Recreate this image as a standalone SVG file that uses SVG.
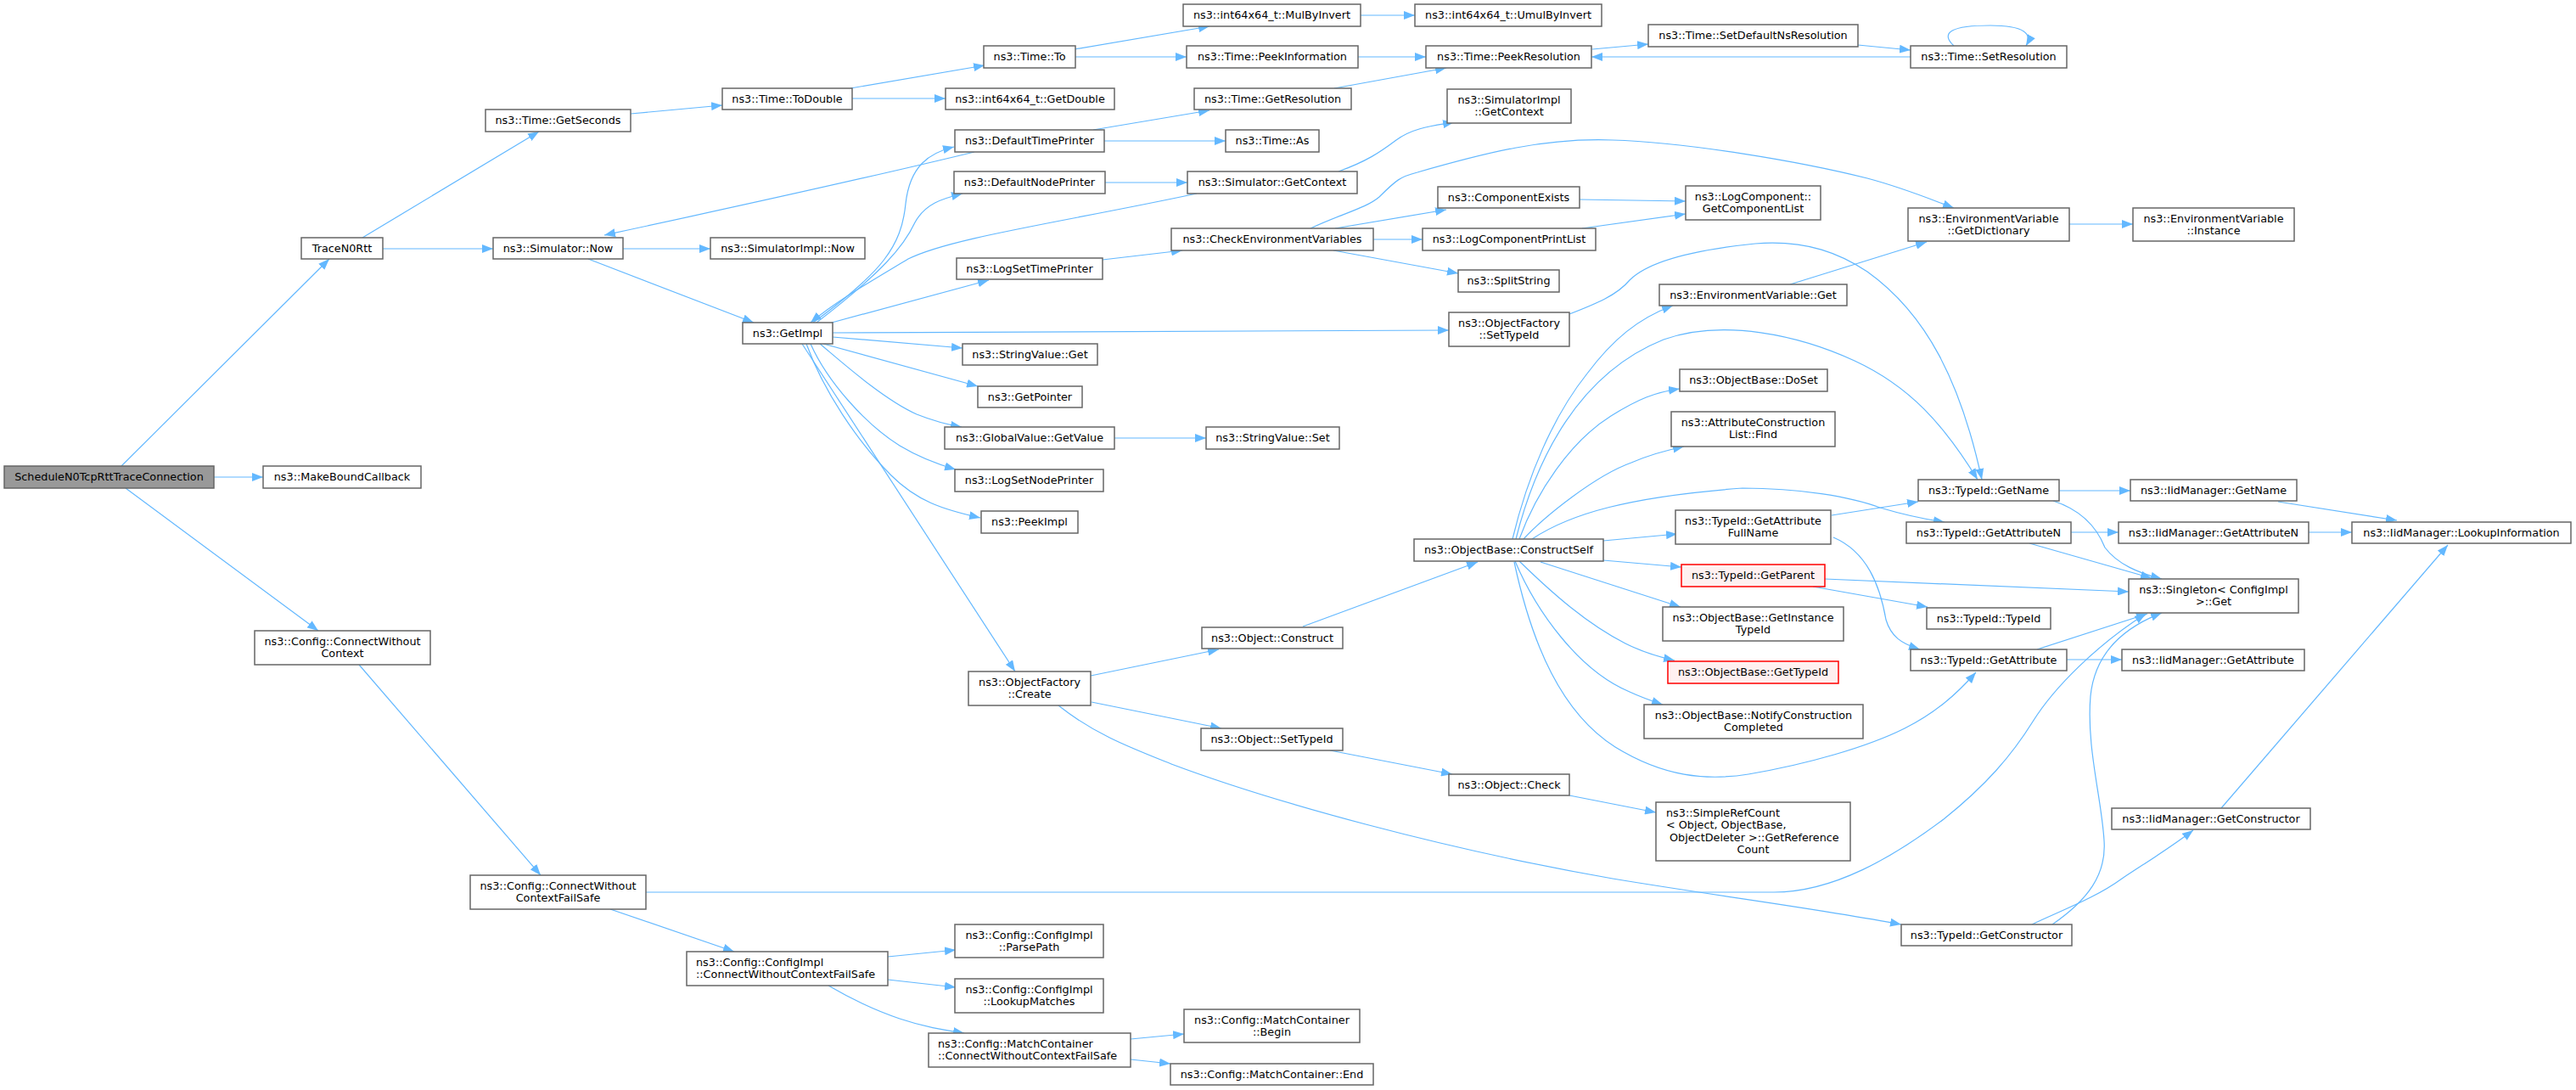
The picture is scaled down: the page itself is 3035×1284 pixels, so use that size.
<svg xmlns="http://www.w3.org/2000/svg" width="3035" height="1284" viewBox="0 0 3035 1284">
<style>
.n rect{fill:#ffffff;stroke:#666666;stroke-width:1.5}
.root rect{fill:#999999}
.red rect{fill:#fff0f0;stroke:#ff0000}
text{font-family:"DejaVu Sans",sans-serif;font-size:12.8px;fill:#000000;text-anchor:middle}
text.l{text-anchor:start}
.e{fill:none;stroke:#63b8ff;stroke-width:1.2;marker-end:url(#arr)}
</style>
<defs>
<marker id="arr" markerUnits="userSpaceOnUse" markerWidth="13" markerHeight="10" refX="13" refY="5" orient="auto">
<path d="M0,0 L13,5 L0,10 z" fill="#63b8ff"/>
</marker>
</defs>
<rect width="3035" height="1284" fill="#ffffff"/>
<g id="edges">
<path class="e" d="M143,549 L388,305"/>
<path class="e" d="M252,562 L310,562"/>
<path class="e" d="M148,575 L375,743"/>
<path class="e" d="M427,280 L635,155"/>
<path class="e" d="M451,293 L581,293"/>
<path class="e" d="M743,134 L851,124"/>
<path class="e" d="M1002,104 L1160,77"/>
<path class="e" d="M1004,116 L1114,116"/>
<path class="e" d="M1266,58 L1425,31"/>
<path class="e" d="M1267,67 L1398,67"/>
<path class="e" d="M1603,18 L1667,18"/>
<path class="e" d="M1600,67 L1680,67"/>
<path class="e" d="M1572,104 L1704,80"/>
<path class="e" d="M1876,58 L1942,52"/>
<path class="e" d="M2189,53 L2251,59"/>
<path class="e" d="M2251,67 L1875,67"/>
<path class="e" d="M2302,54 C2285,38 2300,30 2345,30 C2385,30 2395,40 2387,54"/>
<path class="e" d="M1288,153 L1425,130"/>
<path class="e" d="M1301,166 L1444,166"/>
<path class="e" d="M1148,179 C1000,215 800,258 712,277"/>
<path class="e" d="M1302,215 L1399,215"/>
<path class="e" d="M1577,202 C1610,190 1625,180 1645,165 C1665,150 1690,148 1713,144"/>
<path class="e" d="M1410,228 C1250,262 1120,280 1070,305 C1020,335 985,355 955,380"/>
<path class="e" d="M693,305 L888,380"/>
<path class="e" d="M734,293 L837,293"/>
<path class="e" d="M958,380 C1040,320 1062,290 1067,240 C1072,195 1095,180 1124,173"/>
<path class="e" d="M962,380 C1040,320 1065,290 1078,262 C1090,240 1110,234 1134,228"/>
<path class="e" d="M980,380 L1165,330"/>
<path class="e" d="M1299,306 L1393,295"/>
<path class="e" d="M981,392 L1707,389"/>
<path class="e" d="M981,397 L1134,410"/>
<path class="e" d="M970,405 L1152,455"/>
<path class="e" d="M966,405 C990,425 1040,470 1080,488 C1100,496 1115,500 1133,503"/>
<path class="e" d="M955,405 C975,450 1020,500 1060,525 C1085,540 1105,547 1126,553"/>
<path class="e" d="M950,405 C970,460 1010,520 1050,560 C1080,590 1110,600 1155,610"/>
<path class="e" d="M945,405 L1196,791"/>
<path class="e" d="M1313,516 L1421,516"/>
<path class="e" d="M1573,269 L1704,247"/>
<path class="e" d="M1618,282 L1676,282"/>
<path class="e" d="M1571,295 L1718,322"/>
<path class="e" d="M1544,269 C1580,252 1610,245 1625,232 C1645,212 1650,208 1670,203 C1750,180 1820,162 1900,165 C1990,168 2120,190 2200,210 C2245,222 2275,235 2302,245"/>
<path class="e" d="M2438,264 L2513,264"/>
<path class="e" d="M2109,335 L2270,285"/>
<path class="e" d="M1861,235 L1986,237"/>
<path class="e" d="M1864,269 L1986,252"/>
<path class="e" d="M1849,370 C1880,358 1905,348 1920,330 C1940,310 1990,295 2068,287 C2130,282 2170,300 2200,320 C2270,370 2310,450 2335,565"/>
<path class="e" d="M1782,635 C1800,560 1830,490 1870,440 C1900,400 1930,375 1971,360"/>
<path class="e" d="M1786,635 C1810,540 1860,440 1960,400 C2030,375 2120,395 2185,425 C2250,455 2290,500 2330,565"/>
<path class="e" d="M1790,635 C1810,580 1850,520 1898,490 C1930,470 1950,462 1979,458"/>
<path class="e" d="M1795,635 C1820,608 1880,560 1922,545 C1945,535 1965,530 1984,526"/>
<path class="e" d="M1805,635 C1850,605 1920,585 2053,575 C2120,575 2180,585 2215,598 C2245,607 2270,612 2291,615"/>
<path class="e" d="M1889,637 L1976,629"/>
<path class="e" d="M1889,660 L1981,668"/>
<path class="e" d="M1815,662 L1980,715"/>
<path class="e" d="M1790,661 C1830,700 1870,735 1915,758 C1935,768 1955,774 1973,778"/>
<path class="e" d="M1785,661 C1810,720 1860,790 1920,815 C1935,822 1947,826 1959,830"/>
<path class="e" d="M1784,662 C1805,760 1840,840 1903,880 C1960,915 2010,920 2060,912 C2130,900 2200,880 2244,858 C2280,840 2305,818 2328,792"/>
<path class="e" d="M2160,633 C2200,650 2215,690 2222,730 C2228,750 2240,758 2262,765"/>
<path class="e" d="M2158,607 L2260,591"/>
<path class="e" d="M2136,691 L2271,715"/>
<path class="e" d="M2150,682 L2508,697"/>
<path class="e" d="M2426,578 L2510,578"/>
<path class="e" d="M2419,590 C2450,600 2470,620 2480,645 C2495,665 2520,675 2547,682"/>
<path class="e" d="M2440,627 L2496,627"/>
<path class="e" d="M2391,640 L2535,681"/>
<path class="e" d="M2684,591 L2824,613"/>
<path class="e" d="M2720,627 L2771,627"/>
<path class="e" d="M2435,777 L2500,777"/>
<path class="e" d="M2400,765 L2530,723"/>
<path class="e" d="M2617,952 L2884,642"/>
<path class="e" d="M2394,1089 C2430,1072 2470,1057 2500,1035 C2530,1015 2555,1000 2584,978"/>
<path class="e" d="M2418,1089 C2460,1060 2482,1030 2479,990 C2476,940 2458,880 2463,820 C2468,770 2500,740 2547,722"/>
<path class="e" d="M761,1051 L2090,1051 C2160,1051 2230,1010 2290,965 C2340,925 2370,890 2395,850 C2420,810 2470,760 2528,723"/>
<path class="e" d="M1285,796 L1436,765"/>
<path class="e" d="M1286,827 L1439,858"/>
<path class="e" d="M1247,831 C1290,865 1330,880 1380,900 C1500,945 1700,1000 1900,1035 C2020,1055 2140,1070 2240,1089"/>
<path class="e" d="M1535,738 L1741,662"/>
<path class="e" d="M1567,884 L1711,912"/>
<path class="e" d="M1849,937 L1951,957"/>
<path class="e" d="M423,783 L637,1031"/>
<path class="e" d="M719,1071 L865,1121"/>
<path class="e" d="M1046,1127 L1126,1119"/>
<path class="e" d="M1046,1154 L1126,1163"/>
<path class="e" d="M976,1161 C1000,1175 1030,1190 1060,1200 C1090,1210 1110,1213 1136,1217"/>
<path class="e" d="M1332,1224 L1395,1218"/>
<path class="e" d="M1332,1248 L1379,1253"/>
</g>
<g id="n1" class="n root"><rect x="5" y="549" width="247" height="26"/><text x="128.5" y="566">ScheduleN0TcpRttTraceConnection</text></g>
<g id="n2" class="n"><rect x="355" y="280" width="96" height="25"/><text x="403" y="297">TraceN0Rtt</text></g>
<g id="n3" class="n"><rect x="310" y="549" width="186" height="26"/><text x="403" y="566">ns3::MakeBoundCallback</text></g>
<g id="n4" class="n"><rect x="300" y="743" width="207" height="40"/><text x="403.5" y="759.5">ns3::Config::ConnectWithout</text><text x="403.5" y="773.5">Context</text></g>
<g id="n5" class="n"><rect x="572" y="129" width="171" height="26"/><text x="657.5" y="146">ns3::Time::GetSeconds</text></g>
<g id="n6" class="n"><rect x="581" y="280" width="153" height="25"/><text x="657.5" y="297">ns3::Simulator::Now</text></g>
<g id="n7" class="n"><rect x="851" y="104" width="153" height="25"/><text x="927.5" y="121">ns3::Time::ToDouble</text></g>
<g id="n8" class="n"><rect x="837" y="280" width="182" height="25"/><text x="928" y="297">ns3::SimulatorImpl::Now</text></g>
<g id="n9" class="n"><rect x="875" y="380" width="106" height="25"/><text x="928" y="397">ns3::GetImpl</text></g>
<g id="n10" class="n"><rect x="1159" y="54" width="108" height="26"/><text x="1213" y="71">ns3::Time::To</text></g>
<g id="n11" class="n"><rect x="1114" y="104" width="199" height="25"/><text x="1213.5" y="121">ns3::int64x64_t::GetDouble</text></g>
<g id="n12" class="n"><rect x="1125" y="153" width="176" height="26"/><text x="1213" y="170">ns3::DefaultTimePrinter</text></g>
<g id="n13" class="n"><rect x="1124" y="202" width="178" height="26"/><text x="1213" y="219">ns3::DefaultNodePrinter</text></g>
<g id="n14" class="n"><rect x="1127" y="304" width="172" height="25"/><text x="1213" y="321">ns3::LogSetTimePrinter</text></g>
<g id="n15" class="n"><rect x="1134" y="405" width="159" height="25"/><text x="1213.5" y="422">ns3::StringValue::Get</text></g>
<g id="n16" class="n"><rect x="1152" y="455" width="123" height="25"/><text x="1213.5" y="472">ns3::GetPointer</text></g>
<g id="n17" class="n"><rect x="1113" y="503" width="200" height="26"/><text x="1213" y="520">ns3::GlobalValue::GetValue</text></g>
<g id="n18" class="n"><rect x="1125" y="553" width="175" height="26"/><text x="1212.5" y="570">ns3::LogSetNodePrinter</text></g>
<g id="n19" class="n"><rect x="1156" y="602" width="114" height="26"/><text x="1213" y="619">ns3::PeekImpl</text></g>
<g id="n20" class="n"><rect x="1141" y="791" width="144" height="40"/><text x="1213" y="807.5">ns3::ObjectFactory</text><text x="1213" y="821.5">::Create</text></g>
<g id="n21" class="n"><rect x="1394" y="5" width="209" height="26"/><text x="1498.5" y="22">ns3::int64x64_t::MulByInvert</text></g>
<g id="n22" class="n"><rect x="1398" y="54" width="202" height="26"/><text x="1499" y="71">ns3::Time::PeekInformation</text></g>
<g id="n23" class="n"><rect x="1407" y="104" width="185" height="25"/><text x="1499.5" y="121">ns3::Time::GetResolution</text></g>
<g id="n24" class="n"><rect x="1444" y="153" width="110" height="26"/><text x="1499" y="170">ns3::Time::As</text></g>
<g id="n25" class="n"><rect x="1399" y="202" width="200" height="26"/><text x="1499" y="219">ns3::Simulator::GetContext</text></g>
<g id="n26" class="n"><rect x="1380" y="269" width="238" height="26"/><text x="1499" y="286">ns3::CheckEnvironmentVariables</text></g>
<g id="n27" class="n"><rect x="1421" y="503" width="157" height="26"/><text x="1499.5" y="520">ns3::StringValue::Set</text></g>
<g id="n28" class="n"><rect x="1416" y="739" width="166" height="25"/><text x="1499" y="756">ns3::Object::Construct</text></g>
<g id="n29" class="n"><rect x="1415" y="858" width="167" height="26"/><text x="1498.5" y="875">ns3::Object::SetTypeId</text></g>
<g id="n30" class="n"><rect x="1667" y="5" width="220" height="26"/><text x="1777" y="22">ns3::int64x64_t::UmulByInvert</text></g>
<g id="n31" class="n"><rect x="1680" y="54" width="195" height="26"/><text x="1777.5" y="71">ns3::Time::PeekResolution</text></g>
<g id="n32" class="n"><rect x="1942" y="29" width="247" height="26"/><text x="2065.5" y="46">ns3::Time::SetDefaultNsResolution</text></g>
<g id="n33" class="n"><rect x="2251" y="54" width="184" height="26"/><text x="2343" y="71">ns3::Time::SetResolution</text></g>
<g id="n34" class="n"><rect x="1705" y="105" width="146" height="40"/><text x="1778" y="121.5">ns3::SimulatorImpl</text><text x="1778" y="135.5">::GetContext</text></g>
<g id="n35" class="n"><rect x="1694" y="220" width="167" height="25"/><text x="1777.5" y="237">ns3::ComponentExists</text></g>
<g id="n36" class="n"><rect x="1986" y="219" width="159" height="40"/><text x="2065.5" y="235.5">ns3::LogComponent::</text><text x="2065.5" y="249.5">GetComponentList</text></g>
<g id="n37" class="n"><rect x="1676" y="269" width="204" height="26"/><text x="1778" y="286">ns3::LogComponentPrintList</text></g>
<g id="n38" class="n"><rect x="1718" y="318" width="119" height="26"/><text x="1777.5" y="335">ns3::SplitString</text></g>
<g id="n39" class="n"><rect x="1707" y="368" width="142" height="40"/><text x="1778" y="384.5">ns3::ObjectFactory</text><text x="1778" y="398.5">::SetTypeId</text></g>
<g id="n40" class="n"><rect x="1955" y="335" width="221" height="25"/><text x="2065.5" y="352">ns3::EnvironmentVariable::Get</text></g>
<g id="n41" class="n"><rect x="2248" y="245" width="190" height="39"/><text x="2343" y="261.5">ns3::EnvironmentVariable</text><text x="2343" y="275.5">::GetDictionary</text></g>
<g id="n42" class="n"><rect x="2513" y="245" width="190" height="39"/><text x="2608" y="261.5">ns3::EnvironmentVariable</text><text x="2608" y="275.5">::Instance</text></g>
<g id="n43" class="n"><rect x="1666" y="635" width="223" height="26"/><text x="1777.5" y="652">ns3::ObjectBase::ConstructSelf</text></g>
<g id="n44" class="n"><rect x="1979" y="435" width="174" height="26"/><text x="2066" y="452">ns3::ObjectBase::DoSet</text></g>
<g id="n45" class="n"><rect x="1969" y="485" width="193" height="41"/><text x="2065.5" y="501.5">ns3::AttributeConstruction</text><text x="2065.5" y="515.5">List::Find</text></g>
<g id="n46" class="n"><rect x="1974" y="601" width="183" height="40"/><text x="2065.5" y="617.5">ns3::TypeId::GetAttribute</text><text x="2065.5" y="631.5">FullName</text></g>
<g id="n47" class="n red"><rect x="1981" y="665" width="169" height="26"/><text x="2065.5" y="682">ns3::TypeId::GetParent</text></g>
<g id="n48" class="n"><rect x="1959" y="715" width="213" height="40"/><text x="2065.5" y="731.5">ns3::ObjectBase::GetInstance</text><text x="2065.5" y="745.5">TypeId</text></g>
<g id="n49" class="n red"><rect x="1965" y="779" width="201" height="26"/><text x="2065.5" y="796">ns3::ObjectBase::GetTypeId</text></g>
<g id="n50" class="n"><rect x="1937" y="830" width="258" height="40"/><text x="2066" y="846.5">ns3::ObjectBase::NotifyConstruction</text><text x="2066" y="860.5">Completed</text></g>
<g id="n51" class="n"><rect x="2260" y="565" width="166" height="25"/><text x="2343" y="582">ns3::TypeId::GetName</text></g>
<g id="n52" class="n"><rect x="2246" y="615" width="194" height="25"/><text x="2343" y="632">ns3::TypeId::GetAttributeN</text></g>
<g id="n53" class="n"><rect x="2270" y="716" width="146" height="25"/><text x="2343" y="733">ns3::TypeId::TypeId</text></g>
<g id="n54" class="n"><rect x="2251" y="765" width="184" height="25"/><text x="2343" y="782">ns3::TypeId::GetAttribute</text></g>
<g id="n55" class="n"><rect x="2508" y="682" width="200" height="40"/><text x="2608" y="698.5">ns3::Singleton&lt; ConfigImpl</text><text x="2608" y="712.5">&gt;::Get</text></g>
<g id="n56" class="n"><rect x="2510" y="565" width="196" height="25"/><text x="2608" y="582">ns3::IidManager::GetName</text></g>
<g id="n57" class="n"><rect x="2496" y="615" width="224" height="25"/><text x="2608" y="632">ns3::IidManager::GetAttributeN</text></g>
<g id="n58" class="n"><rect x="2500" y="765" width="215" height="25"/><text x="2607.5" y="782">ns3::IidManager::GetAttribute</text></g>
<g id="n59" class="n"><rect x="2771" y="615" width="258" height="25"/><text x="2900" y="632">ns3::IidManager::LookupInformation</text></g>
<g id="n60" class="n"><rect x="1951" y="945" width="229" height="69"/><text class="l" x="1963" y="961.5">ns3::SimpleRefCount</text><text class="l" x="1963" y="975.5">&lt; Object, ObjectBase,</text><text class="l" x="1967" y="990.5">ObjectDeleter &gt;::GetReference</text><text x="2065.5" y="1004.5">Count</text></g>
<g id="n61" class="n"><rect x="2240" y="1089" width="201" height="25"/><text x="2340.5" y="1106">ns3::TypeId::GetConstructor</text></g>
<g id="n62" class="n"><rect x="2488" y="952" width="234" height="25"/><text x="2605" y="969">ns3::IidManager::GetConstructor</text></g>
<g id="n63" class="n"><rect x="554" y="1031" width="207" height="40"/><text x="657.5" y="1047.5">ns3::Config::ConnectWithout</text><text x="657.5" y="1061.5">ContextFailSafe</text></g>
<g id="n64" class="n"><rect x="809" y="1121" width="237" height="40"/><text class="l" x="820" y="1137.5">ns3::Config::ConfigImpl</text><text class="l" x="820" y="1151.5">::ConnectWithoutContextFailSafe</text></g>
<g id="n65" class="n"><rect x="1125" y="1089" width="175" height="39"/><text x="1212.5" y="1105.5">ns3::Config::ConfigImpl</text><text x="1212.5" y="1119.5">::ParsePath</text></g>
<g id="n66" class="n"><rect x="1125" y="1153" width="175" height="40"/><text x="1212.5" y="1169.5">ns3::Config::ConfigImpl</text><text x="1212.5" y="1183.5">::LookupMatches</text></g>
<g id="n67" class="n"><rect x="1094" y="1217" width="238" height="40"/><text class="l" x="1105" y="1233.5">ns3::Config::MatchContainer</text><text class="l" x="1105" y="1247.5">::ConnectWithoutContextFailSafe</text></g>
<g id="n68" class="n"><rect x="1395" y="1189" width="207" height="39"/><text x="1498.5" y="1205.5">ns3::Config::MatchContainer</text><text x="1498.5" y="1219.5">::Begin</text></g>
<g id="n69" class="n"><rect x="1379" y="1253" width="239" height="25"/><text x="1498.5" y="1270">ns3::Config::MatchContainer::End</text></g>
<g id="n70" class="n"><rect x="1707" y="912" width="142" height="25"/><text x="1778" y="929">ns3::Object::Check</text></g>
</svg>
